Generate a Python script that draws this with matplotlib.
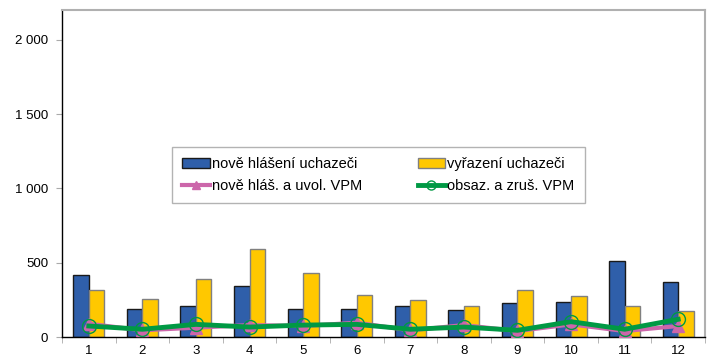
import numpy as np
import matplotlib
matplotlib.use("Agg")
import matplotlib.pyplot as plt
from matplotlib.ticker import FuncFormatter

plt.rcParams["font.family"] = ["Liberation Sans", "DejaVu Sans"]

months = ["1", "2", "3", "4", "5", "6", "7", "8", "9", "10", "11", "12"]
nove_uchazeci = [414, 190, 206, 340, 186, 190, 208, 181, 230, 234, 514, 371]
vyrazeni_uchazeci = [313, 255, 392, 593, 432, 280, 252, 208, 313, 278, 208, 177]
nove_vpm = [89, 45, 63, 80, 74, 96, 45, 80, 40, 85, 40, 74]
obsaz_vpm = [74, 52, 85, 67, 80, 85, 52, 67, 45, 103, 52, 119]

fig = plt.figure(figsize=(7.15, 3.58), dpi=100)
ax = fig.add_axes([62 / 715, 21 / 358, 643 / 715, 327 / 358])

x = np.arange(len(months))
w = 0.29
ax.bar(x - w / 2, nove_uchazeci, w, color="#2F5FAA", edgecolor="#1a1a1a",
       linewidth=1.0, label="nově hlášení uchazeči", zorder=2)
ax.bar(x + w / 2, vyrazeni_uchazeci, w, color="#FFC800", edgecolor="#808080",
       linewidth=1.0, label="vyřazení uchazeči", zorder=2)
ax.plot(x, nove_vpm, color="#CC66AA", lw=3, marker="^", ms=9,
        label="nově hláš. a uvol. VPM", zorder=3)
ax.plot(x, obsaz_vpm, color="#009944", lw=3.5, marker="o", ms=10,
        mfc="none", mec="#009944", mew=1.0,
        label="obsaz. a zruš. VPM", zorder=4)

ax.set_xlim(-0.5, 11.5)
ax.set_ylim(0, 2200)
ax.set_yticks([0, 500, 1000, 1500, 2000])
ax.yaxis.set_major_formatter(FuncFormatter(lambda v, p: "{:,.0f}".format(v).replace(",", " ")))
ax.set_xticks(x)
ax.set_xticklabels(months)
ax.set_xticks(np.arange(-0.5, 12, 1), minor=True)
ax.tick_params(axis="x", which="major", length=0, labelsize=9.5, pad=6)
ax.tick_params(axis="x", which="minor", length=4, color="#aaaaaa", direction="out")
ax.tick_params(axis="y", length=4, color="#aaaaaa", labelsize=9.5, pad=6)

for s in ("left", "bottom"):
    ax.spines[s].set_color("#000000")
    ax.spines[s].set_linewidth(1.0)
for s in ("top", "right"):
    ax.spines[s].set_color("#b0b0b0")
    ax.spines[s].set_linewidth(1.5)

h, l = ax.get_legend_handles_labels()
handles = dict(zip(l, h))
# column-first fill: bars in row 1, lines in row 2
names = ["nově hlášení uchazeči", "nově hláš. a uvol. VPM",
         "vyřazení uchazeči", "obsaz. a zruš. VPM"]
leg = ax.legend([handles[n] for n in names], names, ncol=2, loc="center",
                bbox_to_anchor=(0.492, 0.495), fontsize=10.5, frameon=True,
                fancybox=False, handlelength=1.9, handletextpad=0.15,
                columnspacing=3.8, labelspacing=0.55, borderpad=0.7,
                borderaxespad=0, markerscale=0.65)
leg.get_frame().set_edgecolor("#a0a0a0")
leg.get_frame().set_linewidth(1.0)

fig.savefig("out.png", dpi=100)
